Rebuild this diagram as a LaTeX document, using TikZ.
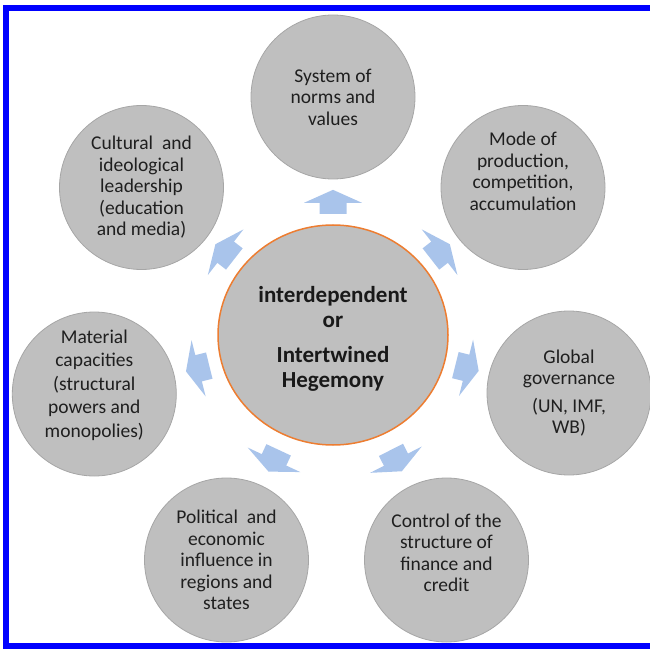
\documentclass[tikz,border=0pt]{standalone}
\usepackage{fontspec}
\setmainfont{Carlito}
\usetikzlibrary{shapes.geometric,calc}
\definecolor{ballgray}{HTML}{BFBFBF}
\definecolor{balledge}{HTML}{A6A6A6}
\definecolor{hubedge}{HTML}{ED7D31}
\definecolor{arrowblue}{HTML}{A9C4EB}
\definecolor{frameblue}{HTML}{0000FF}
\tikzset{
	ball/.style={circle,fill=ballgray,draw=balledge,line width=0.8pt,minimum size=164pt,inner sep=0pt},
	balltext/.style={align=center,text=black!88,font=\fontsize{19.5}{21.5}\selectfont},
	hubtext/.style={align=center,text=black!90,font=\fontsize{23}{25}\selectfont\bfseries},
}
\begin{document}
\begin{tikzpicture}[x=1pt,y=1pt]
	      \useasboundingbox (0,0) rectangle (650,649);
	      \node[ellipse,fill=ballgray,draw=hubedge,line width=1.5pt,minimum width=230pt,minimum height=220pt,inner sep=0pt] (hub) at (333,314) {};
	      \node[ball] (norms) at (333,552) {};
	      \node[ball] (mode) at (523,461.5) {};
	      \node[ball] (govern) at (569,256) {};
	      \node[ball] (control) at (446.5,89) {};
	      \node[ball] (politic) at (226.5,89) {};
	      \node[ball] (material) at (94.3,255) {};
	      \node[ball] (culture) at (141.5,461.5) {};
				\node[hubtext] (hubtxt) at ([yshift=-4pt]hub) {interdependent\\or\\[10pt]Intertwined\\Hegemony};
				\node[balltext] (normstxt) at (norms) {System of\\norms and\\values};
				\node[balltext] (modetxt) at ([yshift=16pt]mode) {Mode of\\production,\\competition,\\accumulation};
				\node[balltext] (governtxt) at (govern) {Global\\governance\\[6pt](UN, IMF,\\WB)};
				\node[balltext] (controltxt) at ([yshift=7pt]control) {Control of the\\structure of\\finance and\\credit};
				\node[balltext] (politictxt) at (politic) {Political\ \ and\\economic\\influence in\\regions and\\states};
				\node[balltext,font=\fontsize{19.5}{23.5}\selectfont] (materialtxt) at ([yshift=9pt]material) {Material\\capacities\\(structural\\powers and\\monopolies)};
				\node[balltext] (culturetxt) at (culture) {Cultural\ \ and\\ideological\\leadership\\(education\\and media)};
				\foreach \n/\a [evaluate=\a as \b using int(\a+180)] in {norms/90,mode/38,govern/-14,control/-63,politic/-115,material/-166,culture/142}{
					\coordinate (mid) at ($(hub.\a)!0.5!(\n.\b)$);
					\fill[arrowblue,shift={(mid)},rotate=\a] (-12,-13.5) -- (-1,-13.5) -- (-1,-29) -- (12,0) -- (-1,29) -- (-1,13.5) -- (-12,13.5) -- cycle;
				}
	      \draw[frameblue,line width=6pt] (660,641) -- (6.3,641) -- (6.3,3) -- (660,3);
	  \end{tikzpicture}
\end{document}
